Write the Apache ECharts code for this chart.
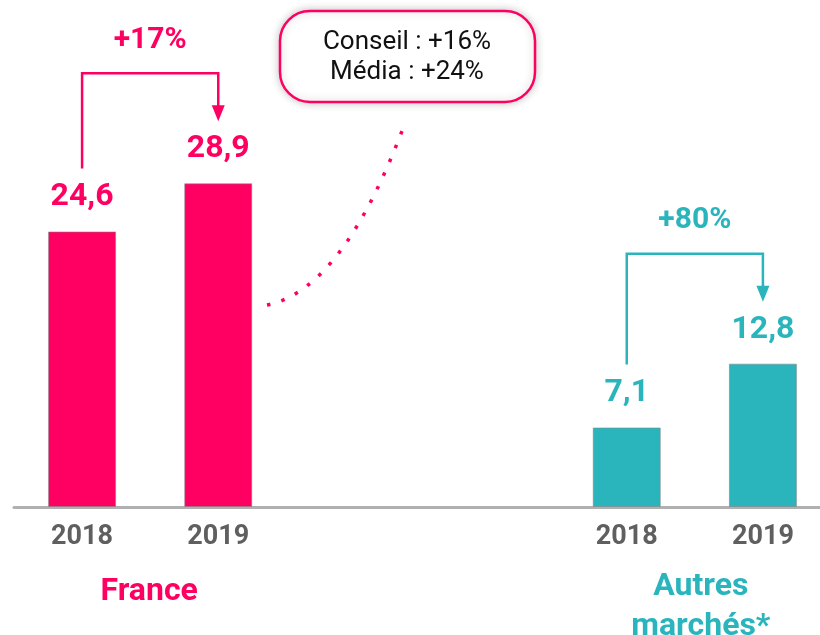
<!DOCTYPE html>
<html>
<head>
<meta charset="utf-8">
<script src="https://cdn.jsdelivr.net/npm/echarts@6/dist/echarts.min.js"></script>
<style>
  html, body { margin: 0; padding: 0; background: #ffffff; }
  #chart { width: 820px; height: 635px; }
</style>
</head>
<body>
<div id="chart"></div>
<script>
// ---- Data ----
const categories = ['2018', '2019', '', '', '2018', '2019'];
const franceValues = [24.6, 28.9];
const autresValues = [7.1, 12.8];
const groupNames = ['France', 'Autres\nmarchés*'];
const growthLabels = ['+17%', '+80%'];
const calloutLines = ['Conseil : +16%', 'Média : +24%'];

const PINK = '#FF0062';
const TEAL = '#2AB5BD';
const FONT = 'Roboto';

const barData = [
  { value: franceValues[0], itemStyle: { color: PINK }, label: { color: PINK } },
  { value: franceValues[1], itemStyle: { color: PINK }, label: { color: PINK } },
  '-', '-',
  { value: autresValues[0], itemStyle: { color: TEAL }, label: { color: TEAL } },
  { value: autresValues[1], itemStyle: { color: TEAL }, label: { color: TEAL } }
];

const chart = echarts.init(document.getElementById('chart'), null, { renderer: 'canvas' });

chart.setOption({
  animation: false,
  backgroundColor: '#ffffff',
  grid: { left: 14, width: 817, top: 59, bottom: 128, containLabel: false, outerBoundsMode: 'none' },
  xAxis: {
    type: 'category',
    data: categories,
    boundaryGap: true,
    axisLine: { show: true, lineStyle: { color: '#b0b0b0', width: 3 } },
    axisTick: { show: false },
    axisLabel: {
      fontFamily: FONT, fontSize: 27, fontWeight: 'bold', color: '#5f5f5f', margin: 17
    },
    splitLine: { show: false }
  },
  yAxis: {
    type: 'value', min: 0, max: 40, show: false, splitLine: { show: false }
  },
  series: [{
    type: 'bar',
    data: barData,
    barWidth: 68,
    itemStyle: { borderColor: 'rgba(130,130,130,0.55)', borderWidth: 1 },
    label: {
      show: true, position: 'top', distance: 18,
      fontFamily: FONT, fontSize: 32, fontWeight: 'bold',
      formatter: p => String(p.value).replace('.', ',')
    }
  }]
});

// ---- Annotations computed from the chart's own scales ----
function px(idx, val) { return chart.convertToPixel({ seriesIndex: 0 }, [idx, val]); }

function bracket(i0, i1, v0, v1, color, text) {
  const a = px(i0, v0), b = px(i1, v1);
  const topY = Math.min(a[1], b[1]) - 110;
  const leftBottom = a[1] - 63;
  const tipY = b[1] - 62;
  const ah = 16, aw = 13;
  return [
    { type: 'polyline', silent: true,
      shape: { points: [[a[0], leftBottom], [a[0], topY], [b[0], topY], [b[0], tipY - ah + 1]] },
      style: { stroke: color, lineWidth: 2.5, fill: null } },
    { type: 'polygon', silent: true,
      shape: { points: [[b[0] - aw / 2, tipY - ah], [b[0] + aw / 2, tipY - ah], [b[0], tipY]] },
      style: { fill: color } },
    { type: 'text', silent: true,
      x: (a[0] + b[0]) / 2, y: topY - 33,
      style: { text: text, fill: color, font: 'bold 30px ' + FONT, align: 'center', verticalAlign: 'middle' } }
  ];
}

const f0 = px(0, 0), f1 = px(1, 0), o0 = px(4, 0), o1 = px(5, 0);
const baseY = f0[1];

const graphics = []
  .concat(bracket(0, 1, franceValues[0], franceValues[1], PINK, growthLabels[0]))
  .concat(bracket(4, 5, autresValues[0], autresValues[1], TEAL, growthLabels[1]))
  .concat([
    // group names
    { type: 'text', silent: true, x: (f0[0] + f1[0]) / 2 - 1, y: baseY + 85,
      style: { text: groupNames[0], fill: PINK, font: 'bold 32px ' + FONT, align: 'center', verticalAlign: 'middle' } },
    { type: 'text', silent: true, x: (o0[0] + o1[0]) / 2 + 6, y: baseY + 100,
      style: { text: groupNames[1], fill: TEAL, font: 'bold 32px ' + FONT, align: 'center', verticalAlign: 'middle', lineHeight: 40 } },
    // callout box
    { type: 'rect', silent: true,
      shape: { x: 280, y: 11, width: 255, height: 91, r: 30 },
      style: { fill: '#ffffff', stroke: PINK, lineWidth: 2.5, shadowBlur: 8, shadowColor: 'rgba(0,0,0,0.22)' } },
    { type: 'text', silent: true, x: 407, y: 57,
      style: { text: calloutLines.join('\n'), fill: '#111111', font: '26px ' + FONT, align: 'center', verticalAlign: 'middle', lineHeight: 30 } },
    // dotted connector
    { type: 'bezierCurve', silent: true,
      shape: { x1: 267, y1: 305, x2: 405, y2: 123, cpx1: 343, cpy1: 290 },
      style: { stroke: PINK, lineWidth: 3.5, lineDash: [3.5, 11.5], lineCap: 'butt', fill: null } }
  ]);

chart.setOption({ graphic: graphics });
</script>
</body>
</html>
